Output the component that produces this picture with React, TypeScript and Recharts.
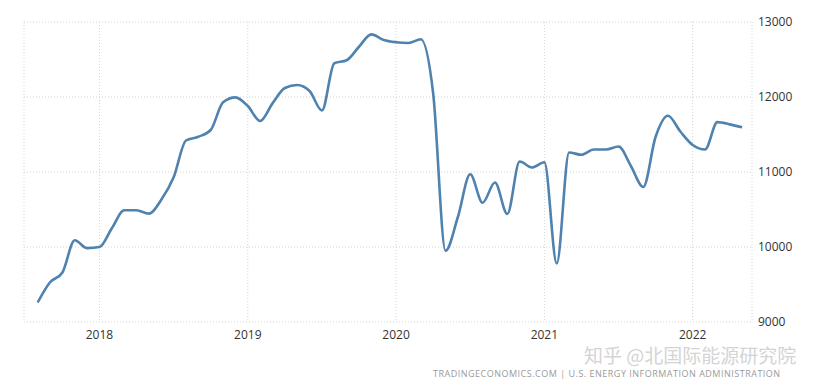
import { LineChart, Line, XAxis, YAxis, CartesianGrid } from "recharts";

// monthly US crude oil production, thousand barrels per day
const months = [
  "2017-08", "2017-09", "2017-10", "2017-11", "2017-12",
  "2018-01", "2018-02", "2018-03", "2018-04", "2018-05", "2018-06",
  "2018-07", "2018-08", "2018-09", "2018-10", "2018-11", "2018-12",
  "2019-01", "2019-02", "2019-03", "2019-04", "2019-05", "2019-06",
  "2019-07", "2019-08", "2019-09", "2019-10", "2019-11", "2019-12",
  "2020-01", "2020-02", "2020-03", "2020-04", "2020-05", "2020-06",
  "2020-07", "2020-08", "2020-09", "2020-10", "2020-11", "2020-12",
  "2021-01", "2021-02", "2021-03", "2021-04", "2021-05", "2021-06",
  "2021-07", "2021-08", "2021-09", "2021-10", "2021-11", "2021-12",
  "2022-01", "2022-02", "2022-03", "2022-04", "2022-05",
];

const production = [
  9260, 9530, 9660, 10090, 9985,
  10000, 10250, 10490, 10490, 10445, 10630,
  10930, 11420, 11470, 11560, 11930, 11995,
  11880, 11680, 11915, 12120, 12160, 12080,
  11820, 12450, 12490, 12670, 12835, 12760,
  12730, 12720, 12770, 12050, 9950, 10400,
  10970, 10590, 10860, 10440, 11140, 11060,
  11130, 9780, 11260, 11230, 11300, 11300,
  11340, 11080, 10800, 11470, 11750, 11540,
  11360, 11300, 11665, 11635, 11595,
];

const yearTicks = [2018, 2019, 2020, 2021, 2022];
const valueTicks = [9000, 10000, 11000, 12000, 13000];

const data = months.map((m, i) => {
  const [y, mo] = m.split("-").map(Number);
  return { t: y + (mo - 1) / 12, value: production[i] };
});

export default function App() {
  return (
    <div
      style={{
        position: "absolute",
        left: 0,
        top: 0,
        width: 831,
        height: 388,
        background: "#fff",
        fontFamily: "'Open Sans', sans-serif",
      }}
    >
      <LineChart
        width={831}
        height={388}
        data={data}
        margin={{ top: 22, right: 0, left: 24, bottom: 36 }}
      >
        <CartesianGrid strokeDasharray="1 2" stroke="#d3d3d3" />
        <XAxis
          dataKey="t"
          type="number"
          domain={[2017.491, 2022.4]}
          allowDataOverflow
          ticks={yearTicks}
          tickFormatter={(v) => String(v)}
          axisLine={false}
          tickLine={false}
          height={30}
          tick={{ fontSize: 12, fill: "#333" }}
        />
        <YAxis
          orientation="right"
          domain={[9000, 13000]}
          ticks={valueTicks}
          axisLine={false}
          tickLine={false}
          width={79}
          tickMargin={0}
          tick={{ fontSize: 12, fill: "#333" }}
        />
        <Line
          type="monotone"
          dataKey="value"
          stroke="#4f82ae"
          strokeWidth={2.6}
          dot={false}
          isAnimationActive={false}
        />
      </LineChart>
      <div
        style={{
          position: "absolute",
          left: 584,
          top: 346,
          fontSize: 19,
          lineHeight: "18px",
          color: "#d4d4d4",
          fontFamily: "'Noto Sans CJK SC', sans-serif",
          whiteSpace: "nowrap",
        }}
      >
        知乎 @北国际能源研究院
      </div>
      <div
        style={{
          position: "absolute",
          left: 433,
          top: 369,
          fontSize: 9,
          lineHeight: "9px",
          letterSpacing: 0.5,
          color: "#9a9a9a",
          whiteSpace: "nowrap",
        }}
      >
        TRADINGECONOMICS.COM | U.S. ENERGY INFORMATION ADMINISTRATION
      </div>
    </div>
  );
}
